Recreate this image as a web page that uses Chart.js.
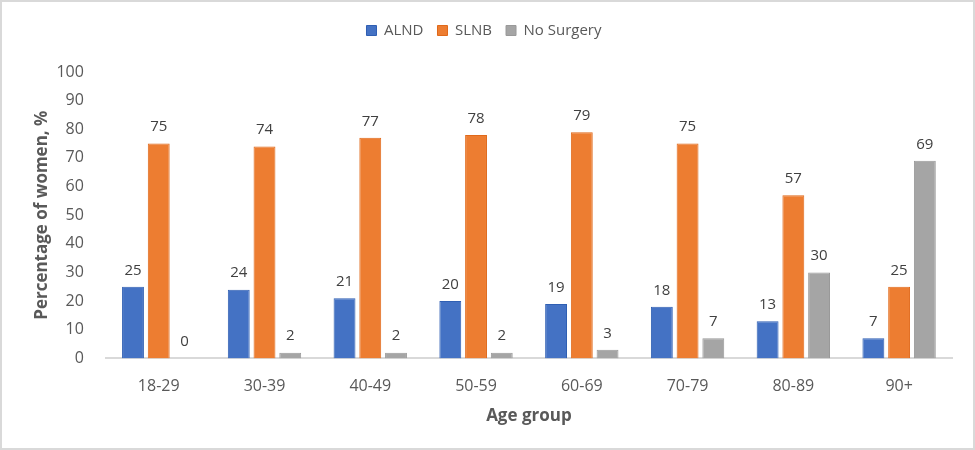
<!DOCTYPE html>
<html>
<head>
<meta charset="utf-8">
<script src="https://cdn.jsdelivr.net/npm/chart.js@4"></script>
<style>
  html, body { margin: 0; padding: 0; background: #fff; }
  #wrap { width: 975px; height: 450px; box-sizing: border-box; border: 2px solid #d9d9d9; background: #fff; }
  #chart { display: block; }
</style>
</head>
<body>
<div id="wrap"><canvas id="chart" width="971" height="446"></canvas></div>
<script>
// data
const ageGroups = ["18-29", "30-39", "40-49", "50-59", "60-69", "70-79", "80-89", "90+"];
const alnd = [25, 24, 21, 20, 19, 18, 13, 7];
const slnb = [75, 74, 77, 78, 79, 75, 57, 25];
const noSurgery = [0, 2, 2, 2, 3, 7, 30, 69];

const FONT = "'Open Sans', 'Liberation Sans', sans-serif";
const TEXT = "#595959";

// value labels on top of each bar
const barLabels = {
  id: "barLabels",
  afterDatasetsDraw(chart) {
    const ctx = chart.ctx;
    ctx.save();
    ctx.font = "15px " + FONT;
    ctx.fillStyle = "#404040";
    ctx.textAlign = "center";
    ctx.textBaseline = "bottom";
    chart.data.datasets.forEach((ds, i) => {
      chart.getDatasetMeta(i).data.forEach((bar, j) => {
        ctx.fillText(String(ds.data[j]), bar.x, bar.y - 9);
      });
    });
    ctx.restore();
  }
};

// extra room under the legend
const legendGap = {
  id: "legendGap",
  beforeInit(chart) {
    const fit = chart.legend.fit;
    chart.legend.fit = function () {
      fit.bind(chart.legend)();
      this.height += 24;
    };
  }
};

new Chart(document.getElementById("chart"), {
  type: "bar",
  data: {
    labels: ageGroups,
    datasets: [
      { label: "ALND", data: alnd, backgroundColor: "#4472c4", borderColor: "#2f5fb3", borderWidth: 1 },
      { label: "SLNB", data: slnb, backgroundColor: "#ed7d31", borderColor: "#e0691a", borderWidth: 1 },
      { label: "No Surgery", data: noSurgery, backgroundColor: "#a5a5a5", borderColor: "#999999", borderWidth: 1 }
    ]
  },
  options: {
    responsive: false,
    animation: false,
    layout: { padding: { top: 7, right: 21, bottom: 18, left: 14 } },
    datasets: { bar: { categoryPercentage: 0.73, barPercentage: 0.85 } },
    plugins: {
      legend: {
        position: "top",
        labels: { boxWidth: 10, boxHeight: 10, padding: 14, color: TEXT, font: { family: FONT, size: 15 } }
      },
      tooltip: { enabled: false }
    },
    scales: {
      x: {
        grid: { display: false },
        border: { color: "#d9d9d9", width: 2 },
        ticks: { color: TEXT, padding: 10, font: { family: FONT, size: 16 } },
        title: { display: true, text: "Age group", color: TEXT, padding: { top: 0, bottom: 4 }, font: { family: FONT, size: 17, weight: "bold" } }
      },
      y: {
        min: 0, max: 100,
        grid: { display: false },
        border: { display: false },
        ticks: { stepSize: 10, color: TEXT, padding: 14, font: { family: FONT, size: 16 } },
        title: { display: true, text: "Percentage of women, %", color: TEXT, padding: { top: 16, bottom: -10 }, font: { family: FONT, size: 17, weight: "bold" } }
      }
    }
  },
  plugins: [barLabels, legendGap]
});
</script>
</body>
</html>
